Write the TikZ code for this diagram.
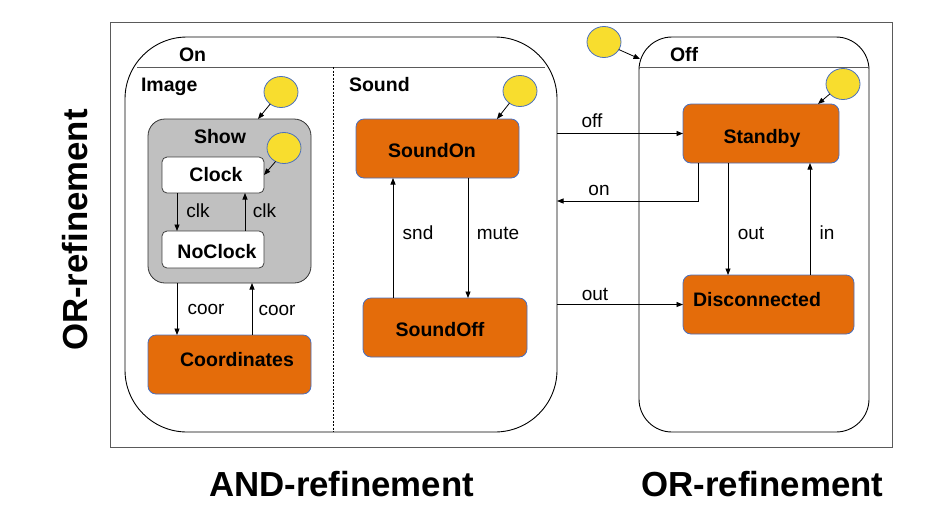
\documentclass[tikz,border=0pt]{standalone}
\usepackage{fontspec}
\setmainfont{Liberation Sans}
\usetikzlibrary{arrows.meta,shapes.geometric}
\definecolor{stateorange}{HTML}{E46C0A}
\definecolor{stateblue}{HTML}{4A6FBE}
\definecolor{inityellow}{HTML}{F8DD2E}
\definecolor{showgray}{HTML}{C0C0C0}
\definecolor{framegray}{HTML}{5A5A5A}
\begin{document}
\begin{tikzpicture}[x=1pt,y=-1pt,
  every node/.style={inner sep=0pt, outer sep=0pt},
  arr/.style={draw=black, line width=0.8pt, -{Triangle[length=6.5pt,width=5pt]}},
  superstate/.style={draw=black, line width=0.9pt, fill=white},
  orangebox/.style={draw=stateblue, line width=0.8pt, fill=stateorange, rounded corners=8pt},
  whitebox/.style={draw=black!75, line width=0.8pt, fill=white, rounded corners=5pt},
  initdot/.style={ellipse, draw=stateblue, line width=0.8pt, fill=inityellow, minimum width=34pt, minimum height=31pt},
  btext/.style={font=\fontsize{19.5}{22}\selectfont\bfseries, anchor=base},
  ltext/.style={font=\fontsize{19}{22}\selectfont, anchor=base},
  bigtext/.style={font=\fontsize{34.8}{40}\selectfont\bfseries, anchor=base}]
\useasboundingbox (0,0) rectangle (925,515);

% outer frame
\node[draw=framegray, line width=1pt, minimum width=782pt, minimum height=425pt] (frame) at (501,234.5) {};

% super states
\node[superstate, minimum width=432pt, minimum height=395pt, rounded corners=62pt] (on) at (341,234.5) {};
\node[superstate, minimum width=230pt, minimum height=395pt, rounded corners=33pt] (off) at (754,234.5) {};
\draw[framegray, line width=1pt] (137,67) -- (545,67);
\draw[framegray, line width=1pt] (off.west |- 0,67) -- (off.east |- 0,67);
\draw[black, line width=0.7pt, dash pattern=on 2pt off 1.5pt] (333,67) -- (on.south -| 333,0);

% titles
\node[btext, anchor=base west] (ontitle) at (179,61) {On};
\node[btext, anchor=base west] (offtitle) at (670,61) {Off};
\node[btext, anchor=base west] (imagetitle) at (141,91) {Image};
\node[btext, anchor=base west] (soundtitle) at (349,91) {Sound};

% Image region
\node[draw=black!80, line width=0.8pt, fill=showgray, rounded corners=17pt, minimum width=163pt, minimum height=164pt] (show) at (229.5,201) {};
\node[btext, anchor=base west] (showtitle) at (194,143) {Show};
\node[whitebox, minimum width=102pt, minimum height=36pt] (clock) at (213,175) {};
\node[btext] (clocktext) at (216,181.7) {Clock};
\node[whitebox, minimum width=102pt, minimum height=37pt] (noclock) at (213,249.5) {};
\node[btext] (noclocktext) at (217,258.3) {NoClock};
\node[orangebox, minimum width=163pt, minimum height=59pt] (coord) at (229.5,364.5) {};
\node[btext] (coordtext) at (237,366.7) {Coordinates};

% Sound region
\node[orangebox, minimum width=163pt, minimum height=59pt] (soundon) at (437.5,148.5) {};
\node[btext] (soundontext) at (432,157.3) {SoundOn};
\node[orangebox, minimum width=164pt, minimum height=59pt] (soundoff) at (445,327.5) {};
\node[btext] (soundofftext) at (440,336.7) {SoundOff};

% Off region
\node[orangebox, minimum width=156pt, minimum height=59pt] (standby) at (761,133.5) {};
\node[btext] (standbytext) at (762,143.3) {Standby};
\node[orangebox, minimum width=171pt, minimum height=59pt] (disc) at (768.5,304.5) {};
\node[btext] (disctext) at (757,306.7) {Disconnected};

% initial pseudo states
\node[initdot] (initimage) at (281,92) {};
\node[initdot] (initshow) at (284,148) {};
\node[initdot] (initsound) at (520,91) {};
\node[initdot] (initoff) at (604,42) {};
\node[initdot] (initstandby) at (843,84) {};
\coordinate (offentry) at (640,59);

\draw[arr] (initimage.228) -- (show.north -| 258,0);
\draw[arr] (initshow.238) -- (clock.east);
\draw[arr] (initsound.229) -- (soundon.north -| 497,0);
\draw[arr] (initoff.333) -- (offentry);
\draw[arr] (initstandby.217) -- (standby.north -| 818,0);

% transitions inside Image
\draw[arr] (clock.south -| 177,0) -- (noclock.north -| 177,0);
\draw[arr] (noclock.north -| 245,0) -- (clock.south -| 245,0);
\draw[arr] (show.south -| 177,0) -- (coord.north -| 177,0);
\draw[arr] (coord.north -| 252,0) -- (show.south -| 252,0);
\node[ltext] (lclk1) at (198,217) {clk};
\node[ltext] (lclk2) at (264.5,217) {clk};
\node[ltext] (lcoor1) at (206,314.5) {coor};
\node[ltext] (lcoor2) at (277,315) {coor};

% transitions inside Sound
\draw[arr] (soundoff.north -| 393,0) -- (soundon.south -| 393,0);
\draw[arr] (soundon.south -| 468,0) -- (soundoff.north -| 468,0);
\node[ltext] (lsnd) at (418,239.3) {snd};
\node[ltext] (lmute) at (498,239.3) {mute};

% transitions between On and Off
\draw[arr] (on.east |- standby.west) -- (standby.west);
\draw[arr] (standby.south -| 698,0) |- (on.east |- 0,201);
\draw[arr] (on.east |- disc.west) -- (disc.west);
\node[ltext] (loff) at (592,127.3) {off};
\node[ltext] (lon) at (599,195) {on};
\node[ltext] (lout1) at (595,300) {out};

% transitions inside Off
\draw[arr] (standby.south -| 728,0) -- (disc.north -| 728,0);
\draw[arr] (disc.north -| 810,0) -- (standby.south -| 810,0);
\node[ltext] (lout2) at (751,239.3) {out};
\node[ltext] (lin) at (827,239.3) {in};

% refinement captions
\node[bigtext, rotate=90] (orleft) at (87,230) {OR-refinement};
\node[bigtext] (andcap) at (341.5,496) {AND-refinement};
\node[bigtext] (orcap) at (762.5,496) {OR-refinement};
\end{tikzpicture}
\end{document}
